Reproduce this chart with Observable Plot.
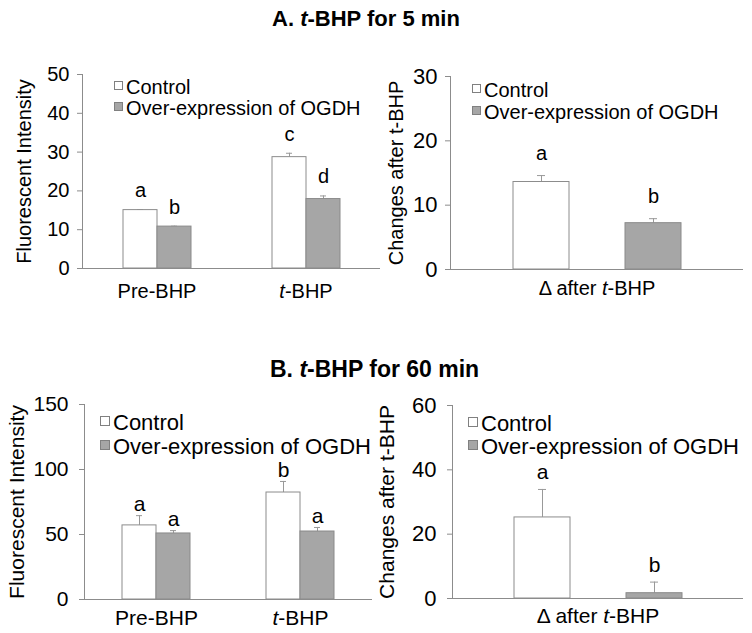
<!DOCTYPE html>
<html><head><meta charset="utf-8">
<script src="https://cdn.jsdelivr.net/npm/d3@7"></script>
<script src="https://cdn.jsdelivr.net/npm/@observablehq/plot@0.6"></script>
<style>
body{margin:0;background:#fff;font-family:"Liberation Sans",Arial,sans-serif;}
#root{position:relative;width:752px;height:633px;overflow:hidden;background:#fff;}
.title{position:absolute;font-weight:bold;font-size:22px;white-space:nowrap;line-height:22px;color:#000;}
.panel{position:absolute;}
.panel svg{overflow:visible;}
.lrow{position:absolute;display:flex;align-items:center;white-space:nowrap;color:#000;}
.sw{display:inline-block;box-sizing:border-box;border:1px solid #808080;margin-right:3px;position:relative;top:-2px;}
</style></head><body><div id="root"></div>
<script>
// ---------- data ----------
const groups = ["Pre-BHP", "t-BHP"];
const series = ["Control", "Over-expression of OGDH"];
const seriesFill = ["#ffffff", "#a6a6a6"];
const seriesStroke = ["#8c8c8c", "#8a8a8a"];
const deltaLabel = "Δ after t-BHP";

// A. t-BHP for 5 min
const a5Control = [15.05, 28.7];
const a5ControlErr = [0.15, 1.0];
const a5Ogdh = [10.8, 17.9];
const a5OgdhErr = [0.1, 0.8];
const a5ControlLetters = ["a", "c"];
const a5OgdhLetters = ["b", "d"];
const a5YTicks = [0, 10, 20, 30, 40, 50];
const a5Delta = [13.6, 7.2];
const a5DeltaErr = [1.0, 0.7];
const a5DeltaLetters = ["a", "b"];
const a5DeltaYTicks = [0, 10, 20, 30];

// B. t-BHP for 60 min
const b60Control = [57, 82.3];
const b60ControlErr = [7.5, 8.5];
const b60Ogdh = [50.8, 52.3];
const b60OgdhErr = [2.2, 3.1];
const b60ControlLetters = ["a", "b"];
const b60OgdhLetters = ["a", "a"];
const b60YTicks = [0, 50, 100, 150];
const b60Delta = [25.2, 1.65];
const b60DeltaErr = [8.7, 3.45];
const b60DeltaLetters = ["a", "b"];
const b60DeltaYTicks = [0, 20, 40, 60];

// ---------- helpers ----------
const FONT = "Liberation Sans, Arial, sans-serif";
const root = document.getElementById("root");

function italicT(svg) {
  svg.querySelectorAll("text").forEach(t => {
    const s = t.textContent;
    if (s === "t-BHP" || s === deltaLabel) {
      const i = s.indexOf("t-BHP");
      while (t.firstChild) t.removeChild(t.firstChild);
      const ns = "http://www.w3.org/2000/svg";
      if (i > 0) { const a = document.createElementNS(ns, "tspan"); a.textContent = s.slice(0, i); t.appendChild(a); }
      const b = document.createElementNS(ns, "tspan"); b.textContent = "t"; b.setAttribute("font-style", "italic"); t.appendChild(b);
      const c = document.createElementNS(ns, "tspan"); c.textContent = s.slice(i + 1); t.appendChild(c);
    }
  });
}

function place(node, left, top, tickFs) {
  const d = document.createElement("div");
  d.className = "panel"; d.style.left = left + "px"; d.style.top = top + "px";
  d.appendChild(node); root.appendChild(d);
  italicT(node);
  node.querySelectorAll('[aria-label="y-axis tick label"]').forEach(g => {
    g.setAttribute("font-size", tickFs);
    g.style.fontSize = tickFs + "px";
  });
}

function legend(left, rowsY, fontSize, sw) {
  series.forEach((s, i) => {
    const r = document.createElement("div");
    r.className = "lrow";
    r.style.left = left + "px"; r.style.top = (rowsY[i] - fontSize / 2) + "px";
    r.style.height = fontSize + "px"; r.style.fontSize = fontSize + "px"; r.style.lineHeight = fontSize + "px";
    const q = document.createElement("span"); q.className = "sw";
    q.style.width = sw + "px"; q.style.height = sw + "px"; q.style.background = seriesFill[i];
    r.appendChild(q); r.appendChild(document.createTextNode(s));
    root.appendChild(r);
  });
}

function title(html, left, top, fs) {
  const d = document.createElement("div"); d.className = "title";
  d.style.left = left + "px"; d.style.top = top + "px"; d.style.fontSize = fs + "px"; d.innerHTML = html; root.appendChild(d);
}

function groupedPanel(o) {
  const rows = [];
  groups.forEach((g, i) => {
    rows.push({group: g, series: series[0], value: o.ctrl[i], err: o.ctrlErr[i], letter: o.ctrlLet[i]});
    rows.push({group: g, series: series[1], value: o.ogdh[i], err: o.ogdhErr[i], letter: o.ogdhLet[i]});
  });
  return Plot.plot({
    width: o.width, height: o.height,
    marginLeft: o.ml, marginRight: o.mr, marginTop: o.mt, marginBottom: o.mb,
    style: {fontFamily: FONT, fontSize: o.fs + "px", color: "#000", background: "transparent"},
    fx: {domain: groups, padding: 0},
    x: {domain: series, paddingInner: 0, paddingOuter: o.po, axis: null},
    y: {domain: [0, o.ticks[o.ticks.length - 1]]},
    color: {domain: series, range: seriesFill},
    marks: [
      Plot.frame({anchor: "left", stroke: "#8c8c8c", facetAnchor: "left"}),
      Plot.axisY({ticks: o.ticks, tickSize: 5, tickPadding: o.tp, stroke: "#8c8c8c", fill: "#000",
        label: "Fluorescent Intensity", labelAnchor: "center", labelOffset: o.lo, labelArrow: "none", fontSize: o.fs}),
      Plot.axisFx({anchor: "bottom", tickSize: 0, tickPadding: o.xtp, label: null, fill: "#000", fontSize: o.fs}),
      Plot.ruleX(rows, {fx: "group", x: "series", y1: "value", y2: d => d.value + d.err, stroke: "#999"}),
      Plot.tickY(rows, {fx: "group", x: "series", y: d => d.value + d.err, stroke: "#999", insetLeft: 14, insetRight: 14}),
      Plot.barY(rows, {fx: "group", x: "series", y: "value", fill: "series",
        stroke: d => seriesStroke[series.indexOf(d.series)], strokeWidth: 1}),
      Plot.text(rows, {fx: "group", x: "series", y: d => d.value + d.err, text: "letter", dy: -o.ldy, fontSize: o.fs, fill: "#000"}),
      Plot.ruleY([0], {stroke: "#8c8c8c"})
    ]
  });
}

function deltaPanel(o) {
  const rows = series.map((s, i) => ({series: s, value: o.vals[i], err: o.errs[i], letter: o.lets[i]}));
  return Plot.plot({
    width: o.width, height: o.height,
    marginLeft: o.ml, marginRight: o.mr, marginTop: o.mt, marginBottom: o.mb,
    style: {fontFamily: FONT, fontSize: o.fs + "px", color: "#000", background: "transparent"},
    x: {domain: series, paddingInner: 0.5, paddingOuter: o.po, axis: null},
    y: {domain: [0, o.ticks[o.ticks.length - 1]]},
    color: {domain: series, range: seriesFill},
    marks: [
      Plot.frame({anchor: "left", stroke: "#8c8c8c"}),
      Plot.axisY({ticks: o.ticks, tickSize: 5, tickPadding: o.tp, stroke: "#8c8c8c", fill: "#000",
        label: "Changes after t-BHP", labelAnchor: "center", labelOffset: o.lo, labelArrow: "none", fontSize: o.fs}),
      Plot.ruleX(rows, {x: "series", y1: "value", y2: d => d.value + d.err, stroke: "#999"}),
      Plot.tickY(rows, {x: "series", y: d => d.value + d.err, stroke: "#999", insetLeft: 24, insetRight: 24}),
      Plot.barY(rows, {x: "series", y: "value", fill: "series",
        stroke: d => seriesStroke[series.indexOf(d.series)], strokeWidth: 1}),
      Plot.text(rows, {x: "series", y: d => d.value + d.err, text: "letter", dy: -o.ldy, fontSize: o.fs, fill: "#000"}),
      Plot.text([deltaLabel], {frameAnchor: "bottom", lineAnchor: "top", dy: o.xtp, fontSize: o.fs, fill: "#000"}),
      Plot.ruleY([0], {stroke: "#8c8c8c"})
    ]
  });
}

// ---------- titles ----------
title("A. <i>t</i>-BHP for 5 min", 272, 8, 22);
title("B. <i>t</i>-BHP for 60 min", 270, 358, 23);

// ---------- panels ----------
place(groupedPanel({ctrl: a5Control, ctrlErr: a5ControlErr, ogdh: a5Ogdh, ogdhErr: a5OgdhErr,
  ctrlLet: a5ControlLetters, ogdhLet: a5OgdhLetters, ticks: a5YTicks,
  width: 385, height: 260, ml: 81, mr: 5, mt: 24, mb: 42, po: 1.136, fs: 20, tp: 8, lo: 66, xtp: 15, ldy: 19}), 0, 50, 22);

place(deltaPanel({vals: a5Delta, errs: a5DeltaErr, lets: a5DeltaLetters, ticks: a5DeltaYTicks,
  width: 376, height: 260, ml: 74, mr: 9, mt: 26, mb: 41, po: 0.558, fs: 20, tp: 8, lo: 62, xtp: 11, ldy: 22}), 376, 50, 22);

place(groupedPanel({ctrl: b60Control, ctrlErr: b60ControlErr, ogdh: b60Ogdh, ogdhErr: b60OgdhErr,
  ctrlLet: b60ControlLetters, ogdhLet: b60OgdhLetters, ticks: b60YTicks,
  width: 385, height: 243, ml: 83, mr: 13, mt: 14, mb: 34, po: 1.094, fs: 21, tp: 11, lo: 75, xtp: 11, ldy: 11}), 0, 390, 22);

place(deltaPanel({vals: b60Delta, errs: b60DeltaErr, lets: b60DeltaLetters, ticks: b60DeltaYTicks,
  width: 376, height: 243, ml: 76, mr: 9, mt: 15, mb: 35, po: 0.549, fs: 21, tp: 11, lo: 73, xtp: 10, ldy: 17}), 376, 390, 22);

// ---------- legends ----------
legend(114, [87, 108], 20, 9);
legend(472, [90, 112], 20, 9);
legend(100, [423, 447], 22, 10);
legend(468, [424, 447], 22, 10);
</script>
</body></html>
